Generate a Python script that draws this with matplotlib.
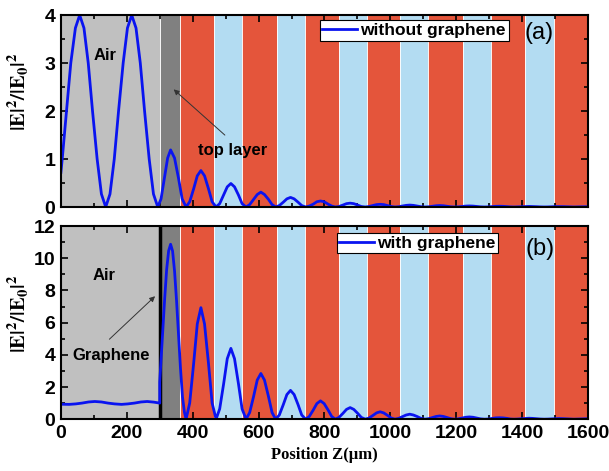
import matplotlib
matplotlib.use('Agg')
import matplotlib.pyplot as plt
from matplotlib.ticker import MultipleLocator

# layer boundaries (um) and kind of each layer
layer_edges = [0, 300, 361, 465, 551, 655, 741, 845, 930, 1030, 1115, 1220, 1305, 1410, 1497, 1600]
layer_kind = ['air', 'top'] + ['a', 'b'] * 6 + ['a']
layer_color = {'air': '#c0c0c0', 'top': '#808080', 'a': '#e4553b', 'b': '#b3dcf2'}

# field readings, air side + first hump
top_air_z = [0, 4, 17, 30, 44, 57, 70, 83, 96, 110, 123, 136, 149, 162, 175, 189, 202, 215,
             228, 241, 254, 268, 281, 294, 304, 314, 324, 333, 345, 357, 368]
top_air_e = [0.72, 1.0, 2.0, 3.0, 3.73, 4.0, 3.73, 3.0, 2.0, 1.0, 0.27, 0, 0.27, 1.0, 2.0, 3.0, 3.73, 4.0,
             3.73, 3.0, 2.0, 1.0, 0.27, 0, 0.17, 0.60, 1.02, 1.19, 1.02, 0.60, 0.17]

bot_air_z = [0, 25, 45, 64, 84, 103, 123, 143, 163, 184, 203, 223, 243, 262, 282, 300,
             300, 309, 315, 321, 327, 333, 339, 345, 351, 357, 363, 369, 375]
bot_air_e = [0.93, 0.92, 0.95, 1.0, 1.07, 1.1, 1.07, 1.0, 0.95, 0.92, 0.95, 1.0, 1.07, 1.1, 1.06, 1.0,
             2.3, 5.4, 7.5, 9.3, 10.46, 10.87, 10.45, 9.2, 7.38, 5.25, 3.16, 1.4, 0.43]

# readings inside the multilayer (same sample positions for both curves)
stack_z = [380, 391, 403, 414, 425, 436, 448, 459,
           471, 482, 494, 505, 516, 527, 539, 550,
           562, 573, 585, 596, 607, 618, 630, 641,
           652, 663, 675, 686, 697, 708, 720, 731,
           743, 754, 766, 777, 788, 799, 811, 822,
           833, 844, 856, 867, 878, 889, 901, 912,
           924, 935, 947, 958, 969, 980, 992, 1003,
           1014, 1025, 1037, 1048, 1059, 1070, 1082, 1093,
           1105, 1116, 1128, 1139, 1150, 1161, 1173, 1184,
           1195, 1206, 1218, 1229, 1240, 1251, 1263, 1274,
           1286, 1297, 1309, 1320, 1331, 1342, 1354, 1365,
           1376, 1387, 1399, 1410, 1421, 1432, 1444, 1455,
           1467, 1478, 1490, 1501, 1512, 1523, 1535, 1546,
           1557, 1568, 1580, 1591, 1600]

top_stack_e = [0, 0.11, 0.38, 0.65, 0.76, 0.65, 0.38, 0.11,
               0, 0.07, 0.25, 0.42, 0.49, 0.42, 0.25, 0.07,
               0, 0.05, 0.16, 0.26, 0.31, 0.26, 0.16, 0.05,
               0, 0.03, 0.10, 0.17, 0.20, 0.17, 0.10, 0.03,
               0, 0.02, 0.06, 0.11, 0.125, 0.11, 0.06, 0.02,
               0, 0.01, 0.04, 0.07, 0.08, 0.07, 0.04, 0.01,
               0, 0.01, 0.03, 0.05, 0.056, 0.05, 0.03, 0.01,
               0, 0.006, 0.02, 0.034, 0.04, 0.034, 0.02, 0.006,
               0, 0.004, 0.015, 0.026, 0.03, 0.026, 0.015, 0.004,
               0, 0.003, 0.011, 0.019, 0.022, 0.019, 0.011, 0.003,
               0, 0.002, 0.008, 0.014, 0.016, 0.014, 0.008, 0.002,
               0, 0.002, 0.006, 0.01, 0.012, 0.01, 0.006, 0.002,
               0, 0.001, 0.005, 0.008, 0.009, 0.008, 0.005, 0.001,
               0, 0.001, 0.004, 0.006, 0.007]

bot_stack_e = [0, 1.01, 3.47, 5.92, 6.93, 5.92, 3.47, 1.01,
               0, 0.64, 2.20, 3.76, 4.40, 3.76, 2.20, 0.64,
               0, 0.41, 1.42, 2.43, 2.84, 2.43, 1.42, 0.41,
               0, 0.26, 0.90, 1.53, 1.79, 1.53, 0.90, 0.26,
               0, 0.17, 0.57, 0.97, 1.14, 0.97, 0.57, 0.17,
               0, 0.11, 0.36, 0.61, 0.72, 0.61, 0.36, 0.11,
               0, 0.07, 0.23, 0.39, 0.46, 0.39, 0.23, 0.07,
               0, 0.05, 0.16, 0.26, 0.31, 0.26, 0.16, 0.05,
               0, 0.03, 0.10, 0.17, 0.20, 0.17, 0.10, 0.03,
               0, 0.02, 0.07, 0.12, 0.14, 0.12, 0.07, 0.02,
               0, 0.01, 0.05, 0.08, 0.09, 0.08, 0.05, 0.01,
               0, 0.01, 0.03, 0.05, 0.06, 0.05, 0.03, 0.01,
               0, 0.006, 0.02, 0.034, 0.04, 0.034, 0.02, 0.006,
               0, 0.004, 0.015, 0.026, 0.03]

plt.rcParams['mathtext.fontset'] = 'stix'
plt.rcParams['font.family'] = 'Liberation Sans'

fig = plt.figure(figsize=(6.09, 4.71), dpi=100)
ax1 = fig.add_axes([0.100, 0.5605, 0.8655, 0.4075])
ax2 = fig.add_axes([0.100, 0.110, 0.8655, 0.410])


def draw_layers(ax):
    for i, kind in enumerate(layer_kind):
        if kind == 'air':
            ax.axvspan(layer_edges[i], layer_edges[i + 1], color=layer_color[kind], lw=0, zorder=0)
        else:
            ax.axvspan(layer_edges[i], layer_edges[i + 1], color=layer_color[kind],
                       ec='white', lw=0.6, zorder=0)


def style(ax, ymax, major, minor, label_y):
    ax.set_xlim(0, 1600)
    ax.set_ylim(0, ymax)
    ax.xaxis.set_major_locator(MultipleLocator(200))
    ax.xaxis.set_minor_locator(MultipleLocator(100))
    ax.yaxis.set_major_locator(MultipleLocator(major))
    ax.yaxis.set_minor_locator(MultipleLocator(minor))
    ax.tick_params(which='both', direction='in', top=True, right=True, width=1.2)
    ax.tick_params(which='major', length=5, labelsize=14, pad=4)
    ax.tick_params(which='minor', length=3)
    for lab in ax.get_xticklabels() + ax.get_yticklabels():
        lab.set_fontweight('bold')
    for s in ax.spines.values():
        s.set_linewidth(1.5)
    ax.set_ylabel(r'$\mathbf{|E|^{2}/|E_{0}|^{2}}$', fontsize=15)
    ax.yaxis.set_label_coords(-0.057, label_y)


# (a) without graphene
draw_layers(ax1)
ax1.plot(top_air_z + stack_z, top_air_e + top_stack_e, color='#0a14f0', lw=2, label='without graphene')
style(ax1, 4, 1, 0.5, 0.60)
ax1.tick_params(labelbottom=False)
ax1.text(133, 3.15, 'Air', fontsize=12, fontweight='bold', ha='center', va='center')
ax1.text(522, 1.17, 'top layer', fontsize=12, fontweight='bold', ha='center', va='center')
ax1.annotate('', xy=(336, 2.49), xytext=(504, 1.46),
             arrowprops=dict(arrowstyle='-|>', color='#333333', lw=0.7, mutation_scale=8))
ax1.text(1450, 3.62, '(a)', fontsize=17, ha='center', va='center')
leg1 = ax1.legend(loc='upper left', bbox_to_anchor=(0.491, 0.972), borderaxespad=0,
                  prop={'weight': 'bold', 'size': 12.5}, fancybox=False, framealpha=1,
                  edgecolor='black', handlelength=2.0, handletextpad=0.2, borderpad=0.15)
leg1.get_frame().set_linewidth(0.8)

# (b) with graphene
draw_layers(ax2)
ax2.axvline(300, color='black', lw=2.5, zorder=1)
ax2.plot(bot_air_z + stack_z, bot_air_e + bot_stack_e, color='#0a14f0', lw=2, label='with graphene', zorder=2)
style(ax2, 12, 2, 1, 0.545)
ax2.text(131, 8.96, 'Air', fontsize=12, fontweight='bold', ha='center', va='center')
ax2.text(152, 3.98, 'Graphene', fontsize=12, fontweight='bold', ha='center', va='center')
ax2.annotate('', xy=(292, 7.76), xytext=(141, 4.85),
             arrowprops=dict(arrowstyle='-|>', color='#333333', lw=0.7, mutation_scale=8))
ax2.text(1455, 10.56, '(b)', fontsize=17, ha='center', va='center')
leg2 = ax2.legend(loc='upper left', bbox_to_anchor=(0.523, 0.965), borderaxespad=0,
                  prop={'weight': 'bold', 'size': 12.5}, fancybox=False, framealpha=1,
                  edgecolor='black', handlelength=2.0, handletextpad=0.2, borderpad=0.15)
leg2.get_frame().set_linewidth(0.8)
ax2.set_xlabel('Position Z(\u03bcm)', fontsize=12, fontweight='bold', family='Liberation Serif')

fig.savefig('out.png', dpi=100)
